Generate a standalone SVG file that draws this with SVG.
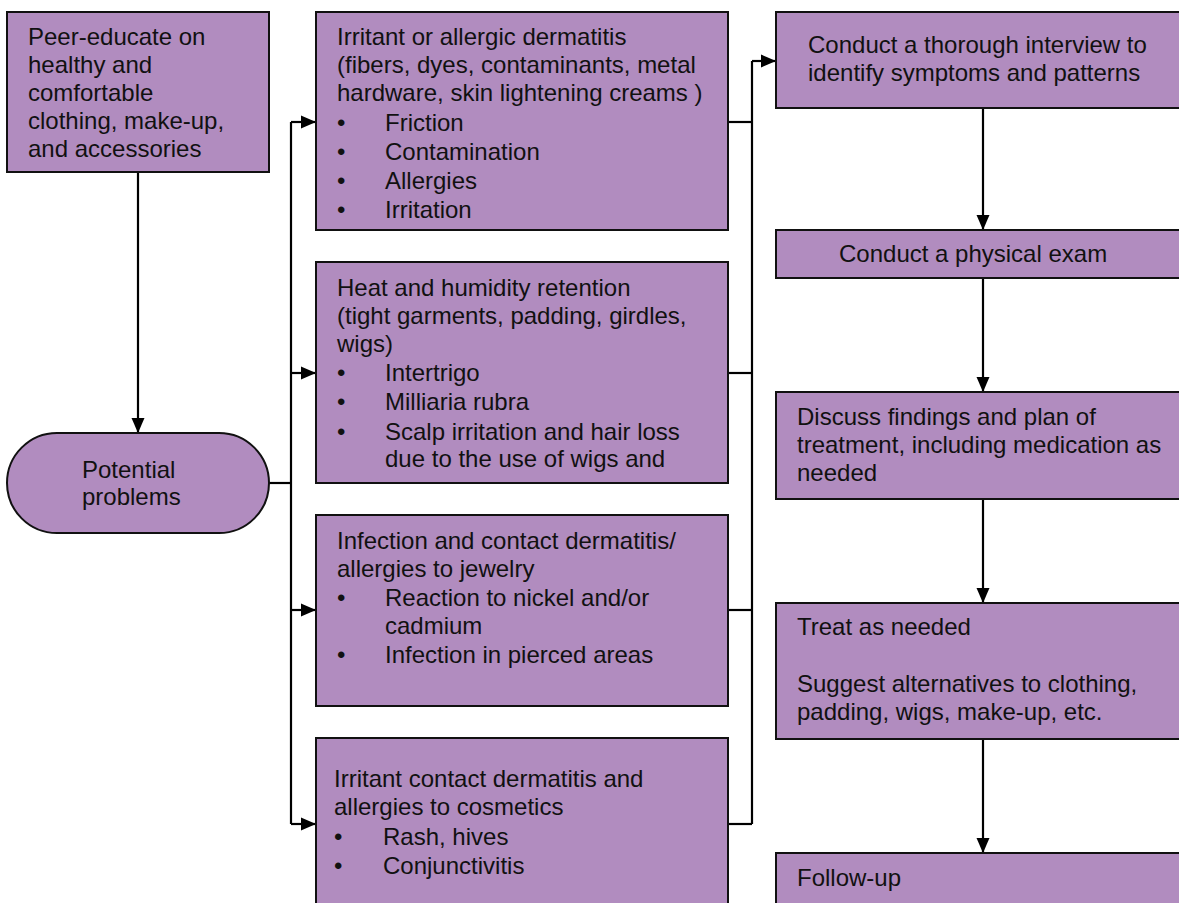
<svg xmlns="http://www.w3.org/2000/svg" width="1179" height="903" viewBox="0 0 1179 903">
<style>
.box{fill:#b18cbf;stroke:#111;stroke-width:2}
.t{font-family:"Liberation Sans",Arial,sans-serif;font-size:24px;fill:#111}
.c{fill:none;stroke:#000;stroke-width:2.2}
</style>
<defs>
<marker id="ah" markerWidth="15" markerHeight="14" refX="15" refY="7" orient="auto" markerUnits="userSpaceOnUse">
<path d="M0,0.5 L15,7 L0,13.5 Z" fill="#000"/>
</marker>
</defs>
<rect width="1179" height="903" fill="#fff"/>
<g id="connectors">
<path class="c" d="M138,172 V433" marker-end="url(#ah)"/>
<path class="c" d="M269,483 H291"/>
<path class="c" d="M291,122 V824"/>
<path class="c" d="M291,122 H316" marker-end="url(#ah)"/>
<path class="c" d="M291,373 H316" marker-end="url(#ah)"/>
<path class="c" d="M291,610 H316" marker-end="url(#ah)"/>
<path class="c" d="M291,824 H316" marker-end="url(#ah)"/>
<path class="c" d="M728,122 H752"/>
<path class="c" d="M728,373 H752"/>
<path class="c" d="M728,610 H752"/>
<path class="c" d="M728,824 H752"/>
<path class="c" d="M752,824 V61"/>
<path class="c" d="M752,61 H776" marker-end="url(#ah)"/>
<path class="c" d="M983,108 V230" marker-end="url(#ah)"/>
<path class="c" d="M983,278 V392" marker-end="url(#ah)"/>
<path class="c" d="M983,499 V603" marker-end="url(#ah)"/>
<path class="c" d="M983,739 V853" marker-end="url(#ah)"/>
</g>
<g id="peer">
<rect class="box" x="7" y="12" width="262" height="160"/>
<text class="t" x="28" y="45">Peer-educate on</text>
<text class="t" x="28" y="73">healthy and</text>
<text class="t" x="28" y="101">comfortable</text>
<text class="t" x="28" y="129">clothing, make-up,</text>
<text class="t" x="28" y="157">and accessories</text>
</g>
<g id="potential">
<rect class="box" x="7" y="433" width="262" height="100" rx="50" ry="50"/>
<text class="t" x="82" y="478">Potential</text>
<text class="t" x="82" y="505">problems</text>
</g>
<g id="irritant">
<rect class="box" x="316" y="12" width="412" height="218"/>
<text class="t" x="337" y="45">Irritant or allergic dermatitis</text>
<text class="t" x="337" y="73">(fibers, dyes, contaminants, metal</text>
<text class="t" x="337" y="101">hardware, skin lightening creams )</text>
<text class="t" x="337" y="131">•</text><text class="t" x="385" y="131">Friction</text>
<text class="t" x="337" y="160">•</text><text class="t" x="385" y="160">Contamination</text>
<text class="t" x="337" y="189">•</text><text class="t" x="385" y="189">Allergies</text>
<text class="t" x="337" y="218">•</text><text class="t" x="385" y="218">Irritation</text>
</g>
<g id="heat">
<rect class="box" x="316" y="262" width="412" height="221"/>
<text class="t" x="337" y="296">Heat and humidity retention</text>
<text class="t" x="337" y="324">(tight garments, padding, girdles,</text>
<text class="t" x="337" y="352">wigs)</text>
<text class="t" x="337" y="381">•</text><text class="t" x="385" y="381">Intertrigo</text>
<text class="t" x="337" y="410">•</text><text class="t" x="385" y="410">Milliaria rubra</text>
<text class="t" x="337" y="440">•</text><text class="t" x="385" y="440">Scalp irritation and hair loss</text>
<text class="t" x="385" y="467">due to the use of wigs and</text>
</g>
<g id="jewelry">
<rect class="box" x="316" y="515" width="412" height="191"/>
<text class="t" x="337" y="549">Infection and contact dermatitis/</text>
<text class="t" x="337" y="577">allergies to jewelry</text>
<text class="t" x="337" y="606">•</text><text class="t" x="385" y="606">Reaction to nickel and/or</text>
<text class="t" x="385" y="634">cadmium</text>
<text class="t" x="337" y="663">•</text><text class="t" x="385" y="663">Infection in pierced areas</text>
</g>
<g id="cosmetics">
<rect class="box" x="316" y="738" width="412" height="180"/>
<text class="t" x="334" y="787">Irritant contact dermatitis and</text>
<text class="t" x="334" y="815">allergies to cosmetics</text>
<text class="t" x="334" y="845">•</text><text class="t" x="383" y="845">Rash, hives</text>
<text class="t" x="334" y="874">•</text><text class="t" x="383" y="874">Conjunctivitis</text>
</g>
<g id="interview">
<rect class="box" x="776" y="12" width="420" height="96"/>
<text class="t" x="808" y="53">Conduct a thorough interview to</text>
<text class="t" x="808" y="81">identify symptoms and patterns</text>
</g>
<g id="exam">
<rect class="box" x="776" y="230" width="420" height="48"/>
<text class="t" x="839" y="262">Conduct a physical exam</text>
</g>
<g id="discuss">
<rect class="box" x="776" y="392" width="420" height="107"/>
<text class="t" x="797" y="425">Discuss findings and plan of</text>
<text class="t" x="797" y="453">treatment, including medication as</text>
<text class="t" x="797" y="481">needed</text>
</g>
<g id="treat">
<rect class="box" x="776" y="603" width="420" height="136"/>
<text class="t" x="797" y="635">Treat as needed</text>
<text class="t" x="797" y="692">Suggest alternatives to clothing,</text>
<text class="t" x="797" y="720">padding, wigs, make-up, etc.</text>
</g>
<g id="followup">
<rect class="box" x="776" y="853" width="420" height="70"/>
<text class="t" x="797" y="886">Follow-up</text>
</g>
</svg>
